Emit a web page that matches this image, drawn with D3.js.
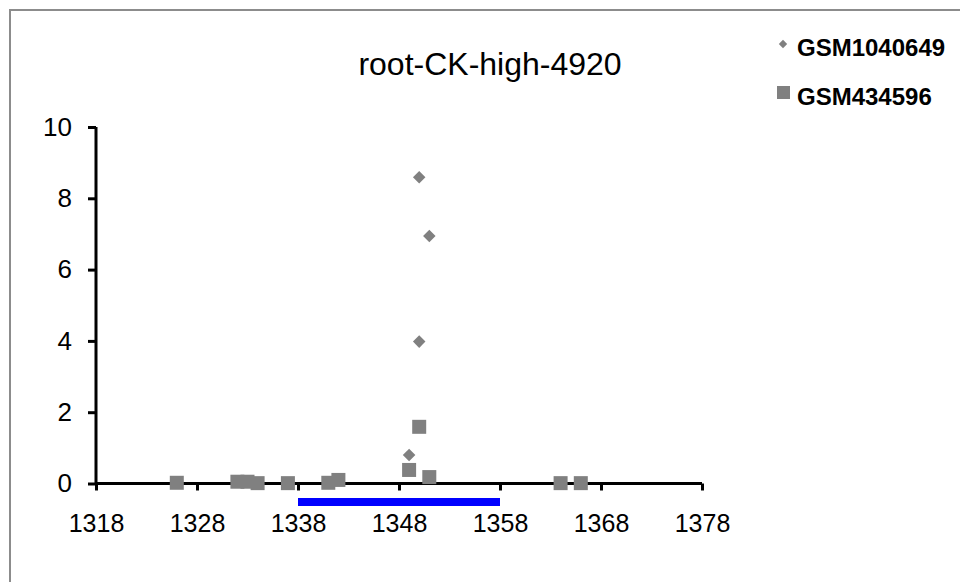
<!DOCTYPE html>
<html>
<head>
<meta charset="utf-8">
<script src="https://cdn.jsdelivr.net/npm/d3@7"></script>
<style>
  html, body { margin: 0; padding: 0; background: #fff; }
  svg { display: block; }
  text { font-family: "Liberation Sans", Arial, sans-serif; fill: #000; }
</style>
</head>
<body>
<svg id="chart" width="960" height="582"></svg>
<script>
// Positions along the sequence and the measured values for each sample
const title = "root-CK-high-4920";
const seriesNames = ["GSM1040649", "GSM434596"];

const gsm1040649Pos = [1349, 1350, 1350, 1351];
const gsm1040649Val = [0.8, 3.98, 8.59, 6.94];

const gsm434596Pos = [1326, 1332, 1333, 1334, 1337, 1341, 1342, 1349, 1350, 1351, 1364, 1366];
const gsm434596Val = [0.02, 0.05, 0.05, 0.01, 0.01, 0.02, 0.1, 0.38, 1.59, 0.18, 0.01, 0.01];

const xTicks = [1318, 1328, 1338, 1348, 1358, 1368, 1378];
const yTicks = [0, 2, 4, 6, 8, 10];

// Highlighted region under the axis
const regionStart = 1338;
const regionEnd = 1358;

const svg = d3.select("#chart");
const grey = "#808080";
const font = "Liberation Sans, Arial, sans-serif";

// Outer frame
svg.append("rect")
  .attr("x", 10).attr("y", 10)
  .attr("width", 980).attr("height", 600)
  .attr("fill", "none").attr("stroke", "#8c8c8c").attr("stroke-width", 2);

const x = d3.scaleLinear().domain([1318, 1378]).range([96, 702]);
const y = d3.scaleLinear().domain([0, 10]).range([483.5, 127]);

// Title
svg.append("text")
  .attr("x", 490).attr("y", 75)
  .attr("text-anchor", "middle")
  .attr("font-size", 32)
  .text(title);

// Y axis
const yAxis = svg.append("g")
  .attr("transform", `translate(${x(1318)},0)`)
  .call(d3.axisLeft(y).tickValues(yTicks).tickSize(8).tickPadding(16).tickFormat(d3.format("d")));
yAxis.select(".domain").attr("stroke", "#000").attr("stroke-width", 3).attr("d", `M0,${y(0)}V${y(10)}`);
yAxis.selectAll(".tick line").attr("stroke", "#000").attr("stroke-width", 3);
yAxis.selectAll(".tick text").attr("font-size", 26).attr("font-family", font).attr("fill", "#000");

// X axis
const xAxis = svg.append("g")
  .attr("transform", `translate(0,${y(0)})`)
  .call(d3.axisBottom(x).tickValues(xTicks).tickSize(7).tickPadding(24).tickFormat(d3.format("d")));
xAxis.select(".domain").attr("stroke", "#000").attr("stroke-width", 3).attr("d", `M${x(1318)},0H${x(1378)}`);
xAxis.selectAll(".tick line").attr("stroke", "#000").attr("stroke-width", 3);
xAxis.selectAll(".tick text").attr("font-size", 25).attr("font-family", font).attr("fill", "#000");

// Region bar
svg.append("rect")
  .attr("x", x(regionStart)).attr("y", 498)
  .attr("width", x(regionEnd) - x(regionStart)).attr("height", 8)
  .attr("fill", "#0000ff");

// GSM434596 squares
const sq = 14;
svg.append("g").selectAll("rect")
  .data(gsm434596Pos.map((p, i) => [p, gsm434596Val[i]]))
  .join("rect")
  .attr("x", d => x(d[0]) - sq / 2)
  .attr("y", d => y(d[1]) - sq / 2)
  .attr("width", sq).attr("height", sq)
  .attr("fill", grey);

// GSM1040649 diamonds
const diamond = d3.symbol().type(d3.symbolDiamond2).size(100);
svg.append("g").selectAll("path")
  .data(gsm1040649Pos.map((p, i) => [p, gsm1040649Val[i]]))
  .join("path")
  .attr("transform", d => `translate(${x(d[0])},${y(d[1])})`)
  .attr("d", diamond)
  .attr("fill", grey);

// Legend
const legend = svg.append("g");
legend.append("path")
  .attr("transform", "translate(783,44)")
  .attr("d", d3.symbol().type(d3.symbolDiamond2).size(45))
  .attr("fill", grey);
legend.append("rect")
  .attr("x", 777).attr("y", 86).attr("width", 13).attr("height", 13)
  .attr("fill", grey);
legend.append("text")
  .attr("x", 797).attr("y", 56)
  .attr("font-size", 24).attr("font-weight", "bold")
  .text(seriesNames[0]);
legend.append("text")
  .attr("x", 797).attr("y", 105)
  .attr("font-size", 24).attr("font-weight", "bold")
  .text(seriesNames[1]);
</script>
</body>
</html>
